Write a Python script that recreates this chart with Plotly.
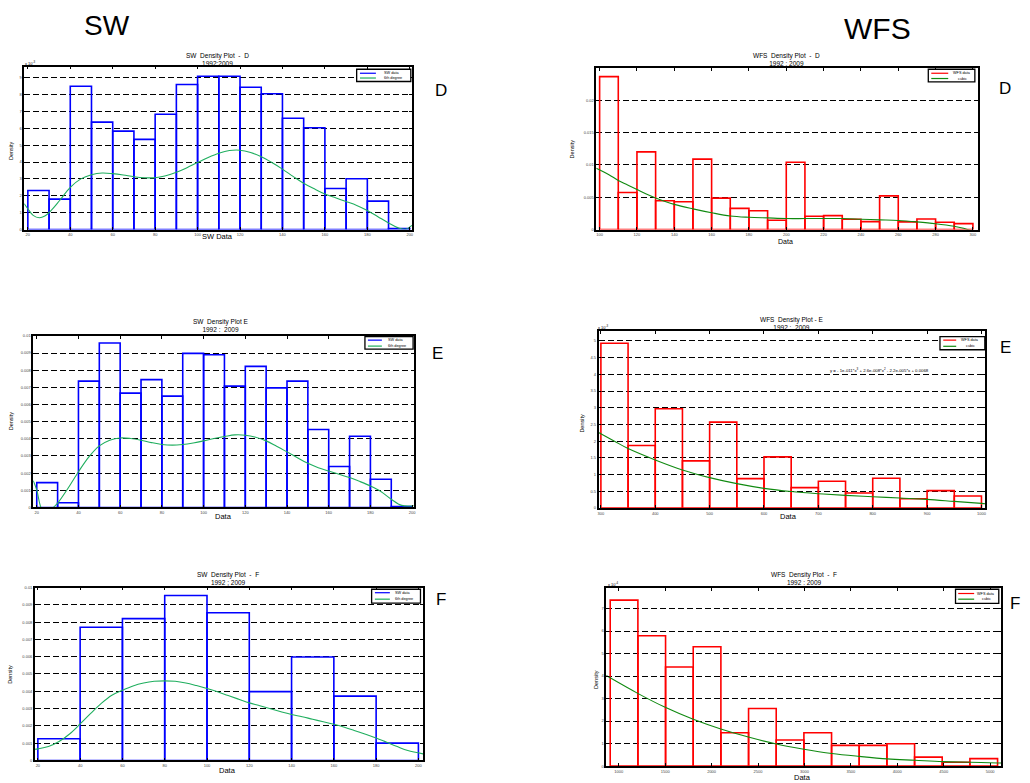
import plotly.graph_objects as go

W, H = 1030, 783
FONT = "Liberation Sans, Arial, sans-serif"

# ---------------- data ----------------
# SW - D (bin width 10)
sw_d_centers = [25, 35, 45, 55, 65, 75, 85, 95, 105, 115, 125, 135, 145, 155, 165, 175, 185, 195]
sw_d_density = [0.00231, 0.00180, 0.00849, 0.00636, 0.00583, 0.00534, 0.00683, 0.00859, 0.00908,
                 0.00908, 0.00843, 0.00804, 0.00659, 0.00603, 0.00243, 0.00301, 0.00168, 0.00006]
sw_d_fit_x = [18.3, 20, 22.5, 25.4, 28, 31, 35, 40, 45, 50, 55, 60, 65, 70, 75, 80, 85, 90, 95, 100,
              105, 110, 115, 120, 125, 130, 135, 140, 145, 150, 155, 160, 165, 170, 175, 180, 185,
              190, 195, 198, 201]
sw_d_fit_y = [0.00153, 0.00123, 0.00084, 0.00070, 0.00080, 0.00113, 0.00172, 0.00250, 0.00300,
              0.00325, 0.00335, 0.00331, 0.00323, 0.00313, 0.00307, 0.00307, 0.00319, 0.00339,
              0.00366, 0.00397, 0.00427, 0.00452, 0.00468, 0.00470, 0.00456, 0.00431, 0.00397,
              0.00358, 0.00315, 0.00274, 0.00241, 0.00211, 0.00188, 0.00166, 0.00143, 0.00113,
              0.00076, 0.00039, 0.00008, 0.00002, 0.00025]

# WFS - D (bin width 10)
wfs_d_centers = [105, 115, 125, 135, 145, 155, 165, 175, 185, 195, 205, 215, 225, 235, 245, 255,
                 265, 275, 285, 295]
wfs_d_density = [0.02368, 0.00573, 0.01202, 0.00445, 0.00430, 0.01090, 0.00486, 0.00327, 0.00292,
                 0.00143, 0.01043, 0.00205, 0.00215, 0.00159, 0.00123, 0.00522, 0.00118, 0.00164,
                 0.00113, 0.00092]
wfs_d_fit_x = [98.2, 105, 110, 115, 120, 125, 130, 140, 150, 160, 170, 180, 190, 200, 210, 220, 230,
               240, 250, 260, 270, 280, 290, 295, 302.8]
wfs_d_fit_y = [0.0095, 0.0085, 0.0076, 0.0069, 0.0062, 0.0055, 0.0049, 0.0039, 0.0032, 0.0026,
               0.0021, 0.0019, 0.0018, 0.0017, 0.0017, 0.0017, 0.0017, 0.0016, 0.0015, 0.0014,
               0.00118, 0.0009, 0.0005, 0.0002, -0.0006]

# SW - E (bin width 10)
sw_e_centers = [25, 35, 45, 55, 65, 75, 85, 95, 105, 115, 125, 135, 145, 155, 165, 175, 185, 195]
sw_e_density = [0.00145, 0.00027, 0.00736, 0.00958, 0.00666, 0.00745, 0.00649, 0.00898, 0.00890,
                0.00707, 0.00822, 0.00697, 0.00736, 0.00454, 0.00239, 0.00415, 0.00164, 0.00006]
sw_e_fit_x = [18.3, 20, 22, 25, 28, 30, 35, 40, 45, 50, 55, 60, 65, 70, 75, 80, 85, 90, 95, 100,
              105, 110, 115, 120, 125, 130, 135, 140, 145, 150, 155, 160, 165, 170, 175, 180, 185,
              190, 195, 200.8]
sw_e_fit_y = [0.00156, 0.00102, 0.0, -0.0006, 0.0, 0.00025, 0.00112, 0.00208, 0.00295, 0.00359,
              0.00392, 0.00405, 0.00402, 0.00392, 0.00378, 0.00367, 0.00363, 0.00367, 0.00376,
              0.00388, 0.00402, 0.00413, 0.00423, 0.00421, 0.00409, 0.00388, 0.00357, 0.00324,
              0.00290, 0.00257, 0.00232, 0.00212, 0.00193, 0.00174, 0.00151, 0.00125, 0.00093,
              0.00048, 0.00012, 0.00010]

# WFS - E (bin width 50)
wfs_e_centers = [325, 375, 425, 475, 525, 575, 625, 675, 725, 775, 825, 875, 925, 975]
wfs_e_density = [0.00493, 0.00187, 0.00297, 0.00141, 0.00257, 0.00088, 0.00153, 0.00061, 0.00080,
                 0.00045, 0.00089, 0.00028, 0.00052, 0.00036]
wfs_e_fit_x = [295.7, 325, 350, 400, 450, 500, 550, 600, 650, 700, 750, 800, 850, 900, 950, 1000,
               1007.3]
wfs_e_fit_y = [0.00226, 0.00200, 0.00178, 0.00144, 0.00114, 0.00091, 0.00073, 0.00059, 0.000495,
               0.00043, 0.00038, 0.00034, 0.00030, 0.00026, 0.00020, 0.00014, 0.00013]

# SW - F (bin width 20)
sw_f_centers = [30, 50, 70, 90, 110, 130, 150, 170, 190]
sw_f_density = [0.00125, 0.00770, 0.00820, 0.00954, 0.00854, 0.00398, 0.00598, 0.00372, 0.00100]
sw_f_fit_x = [18.6, 20, 25, 30, 35, 40, 45, 50, 55, 60, 65, 70, 75, 80, 85, 90, 95, 100, 105, 110,
              115, 120, 125, 130, 135, 140, 145, 150, 155, 160, 165, 170, 175, 180, 185, 190, 195,
              202.2]
sw_f_fit_y = [0.00065, 0.00067, 0.00080, 0.00109, 0.00153, 0.00211, 0.00272, 0.00330, 0.00377,
              0.00406, 0.00431, 0.00448, 0.00458, 0.00460, 0.00458, 0.00448, 0.00433, 0.00416,
              0.00397, 0.00375, 0.00354, 0.00333, 0.00316, 0.00299, 0.00282, 0.00266, 0.00253,
              0.00238, 0.00224, 0.00209, 0.00192, 0.00172, 0.00151, 0.00130, 0.00105, 0.00080,
              0.00057, 0.00038]

# WFS - F (bin width 298)
wfs_f_centers = [1057, 1355, 1653, 1951, 2249, 2547, 2845, 3143, 3441, 3739, 4037, 4335, 4633, 4931]
wfs_f_density = [0.000737, 0.000579, 0.000440, 0.000530, 0.000148, 0.000256, 0.000116, 0.000148,
                 0.000092, 0.000092, 0.000099, 0.000040, 0.000017, 0.000033]
wfs_f_fit_x = [865, 1204, 1500, 1802, 2099, 2396, 2697, 2994, 3295, 3592, 3893, 4190, 4487, 4784,
               5088, 5121]
wfs_f_fit_y = [0.000402, 0.000323, 0.000261, 0.000208, 0.000165, 0.000129, 0.000098, 0.000075,
               0.000056, 0.000043, 0.000032, 0.000026, 0.000020, 0.000017, 0.000014, 0.000014]

# tick labels
sw_x_ticks = [20, 40, 60, 80, 100, 120, 140, 160, 180, 200]
wfs_d_x_ticks = [100, 120, 140, 160, 180, 200, 220, 240, 260, 280, 300]
wfs_e_x_ticks = [300, 400, 500, 600, 700, 800, 900, 1000]
wfs_f_x_ticks = [1000, 1500, 2000, 2500, 3000, 3500, 4000, 4500, 5000]
sw_d_y_ticks = [0, 0.001, 0.002, 0.003, 0.004, 0.005, 0.006, 0.007, 0.008, 0.009]
sw_d_y_text = ["0", "1", "2", "3", "4", "5", "6", "7", "8", "9"]
wfs_d_y_ticks = [0, 0.005, 0.01, 0.015, 0.02]
wfs_d_y_text = ["0", "0.005", "0.01", "0.015", "0.02"]
sw_ef_y_ticks = [0, 0.001, 0.002, 0.003, 0.004, 0.005, 0.006, 0.007, 0.008, 0.009, 0.01]
sw_ef_y_text = ["0", "0.001", "0.002", "0.003", "0.004", "0.005", "0.006", "0.007", "0.008",
                "0.009", "0.01"]
wfs_e_y_ticks = [0, 0.0005, 0.001, 0.0015, 0.002, 0.0025, 0.003, 0.0035, 0.004, 0.0045, 0.005]
wfs_e_y_text = ["0", "0.5", "1", "1.5", "2", "2.5", "3", "3.5", "4", "4.5", "5"]
wfs_f_y_ticks = [0, 0.0001, 0.0002, 0.0003, 0.0004, 0.0005, 0.0006, 0.0007]
wfs_f_y_text = ["0", "1", "2", "3", "4", "5", "6", "7"]

BLUE = "#0000ff"
RED = "#ff0000"
GREEN_SW = "#1fae5e"
GREEN_WFS = "#108a10"

fig = go.Figure()


def px_x(p):
    return p / W


def px_y(p):
    return 1 - p / H


panels = [
    (1, sw_d_centers, sw_d_density, 10, sw_d_fit_x, sw_d_fit_y, BLUE, GREEN_SW,
     (23.3, 412.3), (64, 228), [18.3, 201.1], [0, 0.00965], sw_x_ticks, sw_d_y_ticks, sw_d_y_text),
    (2, wfs_d_centers, wfs_d_density, 10, wfs_d_fit_x, wfs_d_fit_y, RED, GREEN_WFS,
     (597, 980), (65.5, 228), [98.2, 302.8], [0, 0.025], wfs_d_x_ticks, wfs_d_y_ticks, wfs_d_y_text),
    (3, sw_e_centers, sw_e_density, 10, sw_e_fit_x, sw_e_fit_y, BLUE, GREEN_SW,
     (32.3, 414), (335, 507.7), [18.3, 200.8], [0, 0.01], sw_x_ticks, sw_ef_y_ticks, sw_ef_y_text),
    (4, wfs_e_centers, wfs_e_density, 50, wfs_e_fit_x, wfs_e_fit_y, RED, GREEN_WFS,
     (599.3, 987.3), (330, 508.3), [295.7, 1007.3], [0, 0.0053], wfs_e_x_ticks, wfs_e_y_ticks, wfs_e_y_text),
    (5, sw_f_centers, sw_f_density, 20, sw_f_fit_x, sw_f_fit_y, BLUE, GREEN_SW,
     (34, 423.3), (588.3, 762.3), [18.6, 202.2], [0, 0.01], sw_x_ticks, sw_ef_y_ticks, sw_ef_y_text),
    (6, wfs_f_centers, wfs_f_density, 298, wfs_f_fit_x, wfs_f_fit_y, RED, GREEN_WFS,
     (607, 1003.3), (589, 768), [865, 5121], [0, 0.00079], wfs_f_x_ticks, wfs_f_y_ticks, wfs_f_y_text),
]

layout_axes = {}
for (i, cen, dens, bw, fx, fy, bcol, fcol, xpx, ypx, xr, yr, xt, yt, ytt) in panels:
    xa = "x" if i == 1 else f"x{i}"
    ya = "y" if i == 1 else f"y{i}"
    fig.add_trace(go.Bar(x=cen, y=dens, width=bw, xaxis=xa, yaxis=ya, showlegend=False,
                         marker=dict(color="rgba(0,0,0,0)", line=dict(color=bcol, width=1.6))))
    fig.add_trace(go.Scatter(x=fx, y=fy, mode="lines", xaxis=xa, yaxis=ya, showlegend=False,
                             line=dict(color=fcol, width=1.1, shape="spline", smoothing=1.0)))
    common = dict(showline=True, linecolor="black", linewidth=1.5, mirror="allticks",
                  ticks="inside", ticklen=3, tickwidth=1, tickcolor="black", zeroline=False,
                  tickfont=dict(size=4, color="#444", family=FONT))
    layout_axes["xaxis" if i == 1 else f"xaxis{i}"] = dict(
        domain=[px_x(xpx[0]), px_x(xpx[1])], range=xr, anchor=ya, tickvals=xt,
        ticktext=[str(v) for v in xt], showgrid=False, **common)
    layout_axes["yaxis" if i == 1 else f"yaxis{i}"] = dict(
        domain=[px_y(ypx[1]), px_y(ypx[0])], range=yr, anchor=xa, tickvals=yt, ticktext=ytt,
        showgrid=True, gridcolor="black", griddash="6px,3px", gridwidth=0.8, **common)

annotations = []
shapes = []


def text(x, y, s, size, anchor="center", angle=0, color="black"):
    annotations.append(dict(x=px_x(x), y=px_y(y), xref="paper", yref="paper", text=s,
                            showarrow=False, xanchor=anchor, yanchor="middle", textangle=angle,
                            font=dict(size=size, family=FONT, color=color)))


# column headers
text(106, 23, "SW", 28)
text(879, 26, "WFS", 30)
# row labels
text(441, 88, "D", 17)
text(1007, 86, "D", 17)
text(438, 353, "E", 17)
text(1007, 347, "E", 17)
text(441, 600, "F", 17)
text(1017, 604, "F", 17)

# titles (two lines each), axis labels
TS = 6.5
text(217, 56.8, "SW  Density Plot  -  D<br>1992:2009", TS)
text(217, 235, "SW Data", 7.5)
text(10, 148, "Density", 5.5, angle=-90)
text(22, 60.5, "x 10<sup>-3</sup>", 4, anchor="left")

text(788, 57.3, "WFS  Density Plot  -  D<br>1992 : 2009", TS)
text(787, 240.5, "Data", 7)
text(573, 147, "Density", 5.5, angle=-90)

text(221, 324.8, "SW  Density Plot E<br>1992 :  2009", TS)
text(223, 517, "Data", 7.5)
text(10, 420, "Density", 5.5, angle=-90)

text(793, 322.8, "WFS  Density Plot - E<br>1992 :  2009", TS)
text(790, 517, "Data", 7.5)
text(583, 423, "Density", 5.5, angle=-90)
text(597, 326.5, "x 10<sup>-3</sup>", 4, anchor="left")
text(829, 369, "y = - 1e-011*x<sup>3</sup> + 2.6e-008*x<sup>2</sup> - 2.2e-005*x + 0.0068", 4.3,
     anchor="left")

text(228, 579.3, "SW  Density Plot  -  F<br>1992 ; 2009", TS)
text(227, 772.5, "Data", 7.5)
text(9, 675, "Density", 5.5, angle=-90)

text(805, 579.3, "WFS  Density Plot  -  F<br>1992 : 2009", TS)
text(804, 779, "Data", 7.5)
text(596, 681, "Density", 5.5, angle=-90)
text(607, 585, "x 10<sup>-4</sup>", 4, anchor="left")


# legends (drawn as boxes with line samples)
def legend(box, rows, line_x, text_x, labels, cols, anchor):
    x0, y0, x1, y1 = box
    shapes.append(dict(type="rect", xref="paper", yref="paper", x0=px_x(x0), x1=px_x(x1),
                       y0=px_y(y1), y1=px_y(y0), line=dict(color="black", width=1.3),
                       fillcolor="white", layer="above"))
    for ry, lab, col in zip(rows, labels, cols):
        shapes.append(dict(type="line", xref="paper", yref="paper", x0=px_x(line_x[0]),
                           x1=px_x(line_x[1]), y0=px_y(ry), y1=px_y(ry),
                           line=dict(color=col, width=1.2), layer="above"))
        text(text_x, ry, lab, 3.8, anchor=anchor)


legend((356.7, 66.7, 411, 79), (70.7, 75.5), (360, 376), 382, ["SW data", "6th degree"],
       [BLUE, GREEN_SW], "left")
legend((930, 66.7, 976.7, 79.3), (70.7, 76), (933, 950), 964, ["WFS data", "cubic"],
       [RED, GREEN_WFS], "center")
legend((365, 335.7, 413.3, 348.3), (339.3, 345.3), (368, 382), 386, ["SW data", "6th degree"],
       [BLUE, GREEN_SW], "left")
legend((941.7, 335.7, 986.7, 349), (339.3, 345.5), (945, 958), 972, ["WFS data", "cubic"],
       [RED, GREEN_WFS], "center")
legend((371.7, 590, 420.7, 604), (593.5, 600), (375, 390), 393, ["SW data", "6th degree"],
       [BLUE, GREEN_SW], "left")
legend((957.3, 590, 1000.7, 604.3), (594.3, 600), (960, 976), 988, ["WFS data", "cubic"],
       [RED, GREEN_WFS], "center")

fig.update_layout(
    width=W, height=H, margin=dict(l=0, r=0, t=0, b=0),
    paper_bgcolor="white", plot_bgcolor="white", barmode="overlay",
    showlegend=False, font=dict(family=FONT, color="black"),
    annotations=annotations, shapes=shapes, **layout_axes,
)

fig.write_html("out.html")
